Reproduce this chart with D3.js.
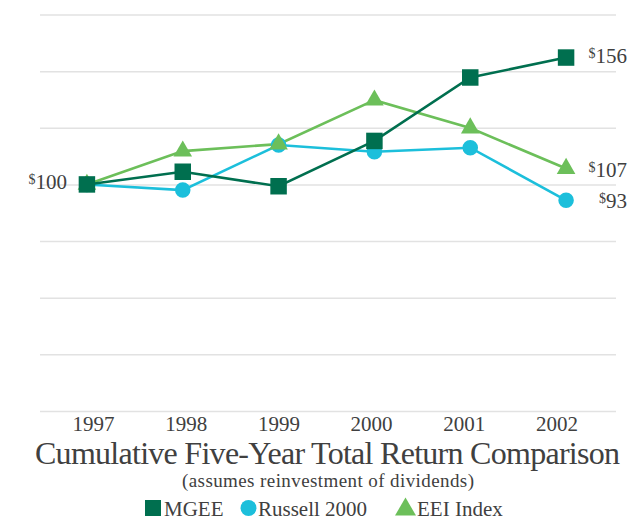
<!DOCTYPE html>
<html>
<head>
<meta charset="utf-8">
<script src="https://cdn.jsdelivr.net/npm/d3@7"></script>
<style>
  html, body { margin: 0; padding: 0; background: #fff; }
  svg { display: block; }
</style>
</head>
<body>
<div id="chart"></div>
<script>
// data
const years = ["1997", "1998", "1999", "2000", "2001", "2002"];
const seriesNames = ["MGEE", "Russell 2000", "EEI Index"];
const mgee = [100, 105.6, 99.2, 119.2, 147.2, 156];
const russell = [100, 97.5, 117.4, 114.4, 116.2, 93];
const eei = [100, 114.7, 117.8, 137.2, 124.9, 107];
const yTicks = [0, 25, 50, 75, 100, 125, 150, 175];

const width = 628, height = 520;
const colors = ["#006f4f", "#1cbfdb", "#6cbf5a"];
const symbols = [d3.symbolSquare, d3.symbolCircle, d3.symbolTriangle];
const symSizes = [272, 190, 150];
const series = [mgee, russell, eei];
const serif = "'Liberation Serif', 'DejaVu Serif', serif";
const textColor = "#404040";

const svg = d3.select("#chart").append("svg")
  .attr("width", width)
  .attr("height", height)
  .style("font-family", serif);

const x = d3.scalePoint().domain(years).range([39, 614]).padding(0.5);
// the year labels sit on a slightly narrower spacing than the points
const xLabel = d3.scalePoint().domain(years).range([93, 556.5]);
const y = d3.scaleLinear().domain([0, 175]).range([411, 14.5]);

// gridlines
const grid = svg.append("g")
  .attr("transform", "translate(40,0)")
  .call(d3.axisLeft(y).tickValues(yTicks).tickSize(-576).tickFormat(""));
grid.select(".domain").remove();
grid.selectAll("line").attr("stroke", "#e2e2e2").attr("stroke-width", 1.5);

// year labels
const xAxis = svg.append("g")
  .attr("transform", "translate(0,411)")
  .call(d3.axisBottom(xLabel).tickSize(0).tickPadding(5));
xAxis.attr("font-family", serif);
xAxis.select(".domain").remove();
xAxis.selectAll("text")
  .attr("font-size", 21)
  .attr("fill", textColor);

const line = d3.line()
  .x((d, i) => x(years[i]))
  .y(d => y(d));

// russell at the bottom, then EEI, MGEE on top
const order = [1, 2, 0];
order.forEach(k => {
  svg.append("path")
    .datum(series[k])
    .attr("fill", "none")
    .attr("stroke", colors[k])
    .attr("stroke-width", 2.6)
    .attr("d", line);
});
order.forEach(k => {
  svg.append("g").selectAll("path")
    .data(series[k])
    .join("path")
      .attr("transform", (d, i) => `translate(${x(years[i])},${y(d)})`)
      .attr("d", d3.symbol().type(symbols[k]).size(symSizes[k]))
      .attr("fill", colors[k]);
});

// value labels
function dollarLabel(px, py, val) {
  const t = svg.append("text")
    .attr("x", px)
    .attr("y", py)
    .attr("text-anchor", "end")
    .attr("font-size", 21)
    .attr("fill", textColor);
  t.append("tspan").attr("font-size", 14).attr("dy", -5).text("$");
  t.append("tspan").attr("dy", 5).text(val);
}
dollarLabel(67, y(mgee[0]) + 5, mgee[0]);
dollarLabel(627, y(mgee[5]) + 5, mgee[5]);
dollarLabel(627, y(eei[5]) + 8, eei[5]);
dollarLabel(627, y(russell[5]) + 8, russell[5]);

// fit a text to a width by tightening or loosening letter spacing
function fitText(sel, target) {
  const str = sel.text();
  const natural = sel.node().getComputedTextLength();
  sel.attr("letter-spacing", (target - natural) / (str.length - 1));
}

const title = svg.append("text")
  .attr("x", 35)
  .attr("y", 464)
  .attr("font-size", 32)
  .attr("fill", textColor)
  .text("Cumulative Five-Year Total Return Comparison");
fitText(title, 585);

const subtitle = svg.append("text")
  .attr("x", 182)
  .attr("y", 487)
  .attr("font-size", 19)
  .attr("fill", textColor)
  .text("(assumes reinvestment of dividends)");
fitText(subtitle, 292);

// legend
const legendSym = [153, 248.5, 405.5];
const legendText = [164, 258, 417];
const legendY = 515.5;
seriesNames.forEach((name, k) => {
  svg.append("path")
    .attr("transform", `translate(${legendSym[k]},${legendY - (k === 2 ? 6 : 7.5)})`)
    .attr("d", d3.symbol().type(symbols[k]).size(k === 0 ? 256 : k === 1 ? 200 : 190))
    .attr("fill", colors[k]);
  svg.append("text")
    .attr("x", legendText[k])
    .attr("y", legendY)
    .attr("font-size", 21)
    .attr("fill", textColor)
    .text(name);
});
</script>
</body>
</html>
